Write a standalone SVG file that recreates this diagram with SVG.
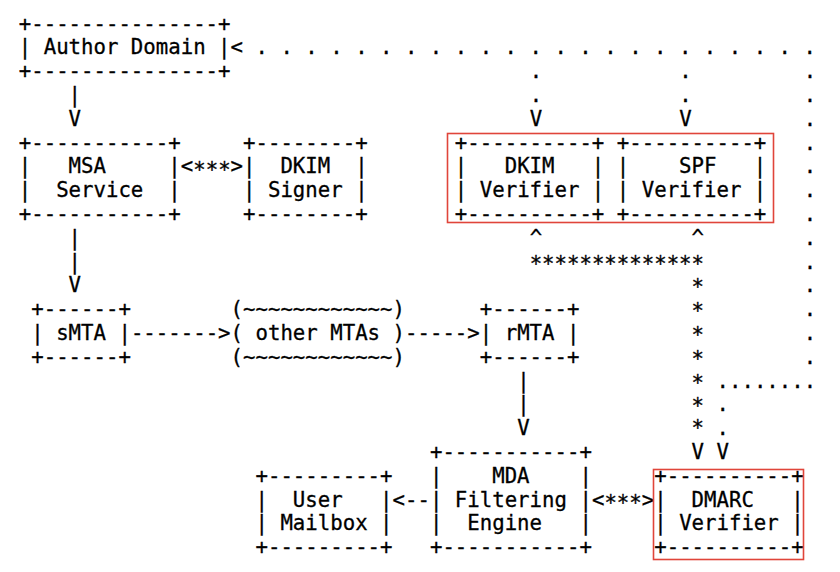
<svg xmlns="http://www.w3.org/2000/svg" width="840" height="572" viewBox="0 0 840 572" xml:space="preserve">
<style>
text { font-family: "DejaVu Sans Mono", "Liberation Mono", monospace; font-size: 20.7px; fill: #000; stroke: #000; stroke-width: 0.3px; white-space: pre; }
.hl { fill: none; stroke: #e0453a; stroke-width: 1.6; }
</style>
<rect width="840" height="572" fill="#fff"/>
<g id="author-domain">
<text x="18.77" y="30.6">+---------------+</text>
<text x="18.77" y="54.4">| Author Domain |</text>
<text x="18.77" y="78.2">+---------------+</text>
</g>
<g id="msa-service">
<text x="18.77" y="149.6">+-----------+</text>
<text x="18.77" y="173.4">|   MSA     |</text>
<text x="18.77" y="197.2">|  Service  |</text>
<text x="18.77" y="221">+-----------+</text>
</g>
<g id="dkim-signer">
<text x="243.05" y="149.6">+--------+</text>
<text x="243.05" y="173.4">|  DKIM  |</text>
<text x="243.05" y="197.2">| Signer |</text>
<text x="243.05" y="221">+--------+</text>
</g>
<g id="dkim-verifier">
<text x="454.87" y="149.6">+----------+</text>
<text x="454.87" y="173.4">|   DKIM   |</text>
<text x="454.87" y="197.2">| Verifier |</text>
<text x="454.87" y="221">+----------+</text>
</g>
<g id="spf-verifier">
<text x="616.85" y="149.6">+----------+</text>
<text x="616.85" y="173.4">|    SPF   |</text>
<text x="616.85" y="197.2">| Verifier |</text>
<text x="616.85" y="221">+----------+</text>
</g>
<g id="smta">
<text x="31.23" y="316.2">+------+</text>
<text x="31.23" y="340">| sMTA |</text>
<text x="31.23" y="363.8">+------+</text>
</g>
<g id="other-mtas">
<text x="230.59" y="316.2">(~~~~~~~~~~~~)</text>
<text x="230.59" y="340">( other MTAs )</text>
<text x="230.59" y="363.8">(~~~~~~~~~~~~)</text>
</g>
<g id="rmta">
<text x="479.79" y="316.2">+------+</text>
<text x="479.79" y="340">| rMTA |</text>
<text x="479.79" y="363.8">+------+</text>
</g>
<g id="mda-filtering-engine">
<text x="429.95" y="459">+-----------+</text>
<text x="429.95" y="482.8">|    MDA    |</text>
<text x="429.95" y="506.6">| Filtering |</text>
<text x="429.95" y="530.4">|  Engine   |</text>
<text x="429.95" y="554.2">+-----------+</text>
</g>
<g id="user-mailbox">
<text x="255.51" y="482.8">+---------+</text>
<text x="255.51" y="506.6">|  User   |</text>
<text x="255.51" y="530.4">| Mailbox |</text>
<text x="255.51" y="554.2">+---------+</text>
</g>
<g id="dmarc-verifier">
<text x="654.23" y="482.8">+----------+</text>
<text x="654.23" y="506.6">|  DMARC   |</text>
<text x="654.23" y="530.4">| Verifier |</text>
<text x="654.23" y="554.2">+----------+</text>
</g>
<g id="connectors">
<text x="68.61" y="102">|</text>
<text x="68.61" y="125.8">V</text>
<text x="68.61" y="244.8">|</text>
<text x="68.61" y="268.6">|</text>
<text x="68.61" y="292.4">V</text>
<text x="180.75" y="173.4"><tspan>&lt;</tspan><tspan dy="3.5">***</tspan><tspan dy="-3.5">&gt;</tspan></text>
<text x="130.91" y="340">-------&gt;</text>
<text x="405.03" y="340">-----&gt;</text>
<text x="517.17" y="387.6">|</text>
<text x="517.17" y="411.4">|</text>
<text x="517.17" y="435.2">V</text>
<text x="392.57" y="506.6">&lt;--</text>
<text x="591.93" y="506.6"><tspan>&lt;</tspan><tspan dy="3.5">***</tspan><tspan dy="-3.5">&gt;</tspan></text>
<text x="230.59" y="54.4">&lt; . . . . . . . . . . . . . . . . . . . . . . .</text>
<text x="529.63" y="78.2">.</text>
<text x="529.63" y="102">.</text>
<text x="529.63" y="125.8">V</text>
<text x="679.15" y="78.2">.</text>
<text x="679.15" y="102">.</text>
<text x="679.15" y="125.8">V</text>
<text x="803.75" y="78.2">.</text>
<text x="803.75" y="102">.</text>
<text x="803.75" y="125.8">.</text>
<text x="803.75" y="149.6">.</text>
<text x="803.75" y="173.4">.</text>
<text x="803.75" y="197.2">.</text>
<text x="803.75" y="221">.</text>
<text x="803.75" y="244.8">.</text>
<text x="803.75" y="268.6">.</text>
<text x="803.75" y="292.4">.</text>
<text x="803.75" y="316.2">.</text>
<text x="803.75" y="340">.</text>
<text x="803.75" y="363.8">.</text>
<text x="716.53" y="387.6">........</text>
<text x="716.53" y="411.4">.</text>
<text x="716.53" y="435.2">.</text>
<text x="716.53" y="459">V</text>
<text x="529.63" y="244.8">^</text>
<text x="691.61" y="244.8">^</text>
<text x="529.63" y="271.1">**************</text>
<text x="691.61" y="294.4">*</text>
<text x="691.61" y="318.2">*</text>
<text x="691.61" y="342">*</text>
<text x="691.61" y="365.8">*</text>
<text x="691.61" y="389.6">*</text>
<text x="691.61" y="413.4">*</text>
<text x="691.61" y="435.2">*</text>
<text x="691.61" y="459">V</text>
</g>
<g id="highlights">
<rect class="hl" x="447.5" y="133.5" width="326" height="89"/>
<rect class="hl" x="653.5" y="469.5" width="150" height="90"/>
</g>
</svg>
